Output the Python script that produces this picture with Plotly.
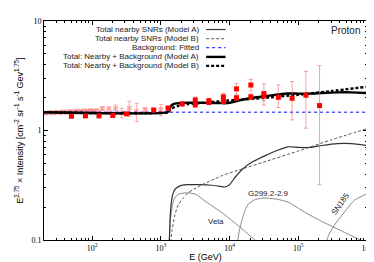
import plotly.graph_objects as go

# ---------------- data ----------------
bg_level = 1.47
bg_E = [20, 1e6]
bg_I = [1.47, 1.47]

snrA_E = [1300, 1330, 1360, 1400, 1450, 1550, 1700, 2000, 2500, 3500, 5000, 7000, 8500, 10000,
          12300, 15800, 22000, 33000, 50000, 71000, 100000, 150000, 220000, 370000, 600000, 1000000]
snrA_I = [0.07, 0.10, 0.15, 0.20, 0.24, 0.28, 0.30, 0.315, 0.32, 0.32, 0.318, 0.31, 0.305, 0.32,
          0.38, 0.45, 0.52, 0.59, 0.66, 0.71, 0.70, 0.70, 0.73, 0.76, 0.76, 0.73]

snrB_E = [1350, 1400, 1450, 1600, 1800, 2100, 2500, 3000, 4000, 6000, 8000, 16000, 30000,
          100000, 300000, 1000000]
snrB_I = [0.07, 0.10, 0.12, 0.17, 0.21, 0.24, 0.27, 0.29, 0.32, 0.36, 0.39, 0.45, 0.51,
          0.65, 0.82, 1.04]

vela_E = [1300, 1330, 1370, 1420, 1480, 1550, 1800, 2450, 3200, 4600, 7900, 13600, 23400, 30000]
vela_I = [0.07, 0.10, 0.145, 0.18, 0.21, 0.235, 0.262, 0.27, 0.262, 0.222, 0.176, 0.134, 0.10, 0.088]

g299_E = [12800, 13200, 14000, 15200, 17000, 19000, 24000, 33000, 50000, 71000, 123000, 214000,
          415000, 725000, 900000]
g299_I = [0.08, 0.10, 0.125, 0.153, 0.19, 0.215, 0.235, 0.242, 0.235, 0.222, 0.18, 0.149,
          0.122, 0.103, 0.097]

sn185_E = [255000, 262000, 280000, 330000, 470000, 650000, 1000000]
sn185_I = [0.085, 0.10, 0.113, 0.135, 0.18, 0.23, 0.265]

pale_E = [21, 24, 27, 30, 34, 38, 43, 48, 54, 60, 67, 75, 84, 94, 105, 118, 141, 175, 219,
          270, 347, 445, 590, 777, 1000]
pale_I = [1.44, 1.46, 1.45, 1.47, 1.46, 1.48, 1.47, 1.49, 1.48, 1.50, 1.49, 1.51, 1.50, 1.52,
          1.50, 1.51, 1.58, 1.55, 1.58, 1.45, 1.60, 1.49, 1.55, 1.56, 1.55]
pale_err = [0.03, 0.03, 0.03, 0.03, 0.03, 0.03, 0.03, 0.03, 0.03, 0.03, 0.03, 0.03, 0.04, 0.04,
            0.04, 0.05, 0.06, 0.10, 0.13, 0.14, 0.25, 0.28, 0.05, 0.05, 0.18]

fill_E = [50, 80, 126, 200, 316, 790, 1275, 2040, 3170, 3170, 5000, 5000, 8130, 8130,
          12600, 12600, 20400, 20400, 31600, 31600, 51300, 81300, 129000, 204000]
fill_I = [1.35, 1.36, 1.36, 1.37, 1.42, 1.53, 1.60, 1.75, 1.90, 1.71, 1.87, 1.80, 2.03, 1.84,
          2.40, 1.99, 2.60, 2.03, 2.17, 2.07, 2.01, 1.97, 2.10, 1.69]
fill_up = [0.02, 0.02, 0.02, 0.02, 0.03, 0.04, 0.08, 0.06, 0.12, 0.06, 0.10, 0.06, 0.15, 0.08,
           0.30, 0.10, 0.33, 0.12, 0.50, 0.20, 0.60, 0.83, 1.37, 2.22]
fill_dn = [0.02, 0.02, 0.02, 0.02, 0.03, 0.04, 0.08, 0.06, 0.12, 0.06, 0.10, 0.06, 0.15, 0.08,
           0.25, 0.10, 0.30, 0.12, 0.46, 0.20, 0.39, 0.72, 1.05, 1.37]

x_tickvals = [1e2, 1e3, 1e4, 1e5, 1e6]
x_ticktext = ["10<sup>2</sup>", "10<sup>3</sup>", "10<sup>4</sup>", "10<sup>5</sup>", "10<sup>6</sup>"]
y_tickvals = [0.1, 1, 10]
y_ticktext = ["0.1", "1", "10"]

legend_labels = ["Total nearby SNRs (Model A)", "Total nearby SNRs (Model B)",
                 "Background: Fitted", "Total: Nearby + Background (Model A)",
                 "Total: Nearby + Background (Model B)"]

# derived totals
totA_E = [20, 1250] + snrA_E
totA_I = [bg_level + v for v in [0.0, 0.0] + snrA_I]
totB_E = [20, 1300] + snrB_E
totB_I = [bg_level + v for v in [0.0, 0.0] + snrB_I]

# ---------------- figure ----------------
fig = go.Figure()

SPL = dict(shape="spline", smoothing=0.5)
GREY = "#7a7a7a"

fig.add_trace(go.Scatter(x=vela_E, y=vela_I, mode="lines",
                         line=dict(color=GREY, width=0.9, **SPL)))
fig.add_trace(go.Scatter(x=g299_E, y=g299_I, mode="lines",
                         line=dict(color=GREY, width=0.9, **SPL)))
fig.add_trace(go.Scatter(x=sn185_E, y=sn185_I, mode="lines",
                         line=dict(color=GREY, width=0.9, **SPL)))
fig.add_trace(go.Scatter(x=snrA_E, y=snrA_I, mode="lines",
                         line=dict(color="#333333", width=1.2, **SPL)))
fig.add_trace(go.Scatter(x=snrB_E, y=snrB_I, mode="lines",
                         line=dict(color="#555555", width=1, dash="3px,2px", **SPL)))

# data
fig.add_trace(go.Scatter(x=pale_E, y=pale_I, mode="markers",
                         marker=dict(symbol="square", size=5, color="rgba(255,110,110,0.45)"),
                         error_y=dict(type="data", array=pale_err, color="rgba(255,110,110,0.6)",
                                      thickness=1, width=2)))

fig.add_trace(go.Scatter(x=bg_E, y=bg_I, mode="lines",
                         line=dict(color="#0000ff", width=1, dash="dot")))
fig.add_trace(go.Scatter(x=totA_E, y=totA_I, mode="lines",
                         line=dict(color="black", width=2.4, **SPL)))
fig.add_trace(go.Scatter(x=totB_E, y=totB_I, mode="lines",
                         line=dict(color="black", width=2.4, dash="3px,2px", **SPL)))

fig.add_trace(go.Scatter(x=fill_E, y=fill_I, mode="markers",
                         marker=dict(symbol="square", size=5, color="#ff0000"),
                         error_y=dict(type="data", symmetric=False, array=fill_up,
                                      arrayminus=fill_dn, color="rgba(240,100,100,0.6)",
                                      thickness=1, width=2)))

# legend (manual, text right-aligned with sample on the right)
leg_y = [0.961, 0.919, 0.878, 0.836, 0.795]
leg_styles = [dict(color="#333333", width=1.2),
              dict(color="#555555", width=1, dash="3px,2px"),
              dict(color="#0000ff", width=1, dash="dot"),
              dict(color="black", width=2.4),
              dict(color="black", width=2.4, dash="3px,2px")]
for lab, yy, st in zip(legend_labels, leg_y, leg_styles):
    fig.add_annotation(x=0.487, y=yy, xref="paper", yref="paper", text=lab, showarrow=False,
                       xanchor="right", yanchor="middle",
                       font=dict(family="Liberation Sans, Arial", size=8, color="#222222"))
    fig.add_shape(type="line", xref="paper", yref="paper", x0=0.502, x1=0.562, y0=yy, y1=yy,
                  line=st)

fig.add_annotation(x=0.985, y=0.955, xref="paper", yref="paper", text="Proton",
                   showarrow=False, xanchor="right", yanchor="middle",
                   font=dict(family="Liberation Sans, Arial", size=10, color="#222222"))

# curve labels
LBL = dict(family="Liberation Sans, Arial", size=8, color="#222222")
fig.add_annotation(x=3.80, y=-0.828, text="Vela", showarrow=False, font=LBL)
fig.add_annotation(x=4.57, y=-0.575, text="G299.2-2.9", showarrow=False, font=LBL)
fig.add_annotation(x=5.62, y=-0.668, text="SN185", showarrow=False, textangle=-55, font=LBL)

minor_x = []
for d in [10, 100, 1000, 10000, 100000]:
    minor_x += [d * k for k in range(2, 10)]
minor_x = [v for v in minor_x if v >= 20]
minor_y = [0.1 * k for k in range(2, 10)] + [float(k) for k in range(2, 10)]

fig.update_layout(
    width=374, height=262,
    margin=dict(l=36, r=11, t=9, b=24),
    paper_bgcolor="white", plot_bgcolor="white",
    showlegend=False,
    font=dict(family="Liberation Sans, Arial", size=9, color="black"),
    xaxis=dict(type="log", range=[1.3, 6], tickvals=x_tickvals, ticktext=x_ticktext,
               ticks="inside", ticklen=4, tickcolor="black", showline=True, linecolor="black",
               linewidth=1, mirror="allticks", showgrid=False, zeroline=False,
               tickfont=dict(family="Liberation Serif, Times New Roman", size=8),
               minor=dict(tickvals=minor_x, ticks="inside", ticklen=2, tickcolor="black"),
               title=dict(text="E (GeV)", standoff=2,
                          font=dict(family="Liberation Sans, Arial", size=9))),
    yaxis=dict(type="log", range=[-1, 1], tickvals=y_tickvals, ticktext=y_ticktext,
               ticks="inside", ticklen=4, tickcolor="black", showline=True, linecolor="black",
               linewidth=1, mirror="allticks", showgrid=False, zeroline=False,
               tickfont=dict(family="Liberation Serif, Times New Roman", size=8),
               minor=dict(tickvals=minor_y, ticks="inside", ticklen=2, tickcolor="black"),
               title=dict(text="E<sup>2.75</sup> × Intensity [cm<sup>-2</sup> sr<sup>-1</sup> s<sup>-1</sup> Gev<sup>1.75</sup>]",
                          standoff=6, font=dict(family="Liberation Sans, Arial", size=9))),
)

fig.write_html("out.html")
